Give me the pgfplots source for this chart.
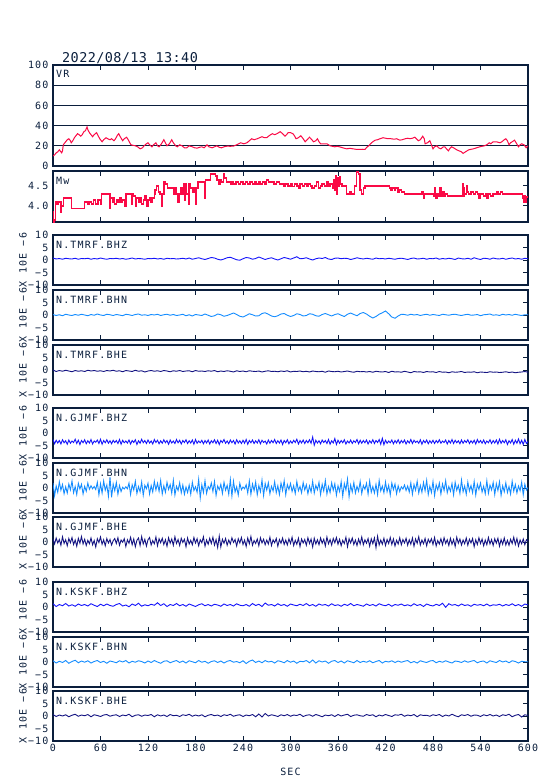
\documentclass[border=0pt]{standalone}
\usepackage{pgfplots}
\pgfplotsset{compat=1.18}
\usepackage{pgfplotstable}
\usepackage{fontspec}
\setmonofont[LetterSpace=12]{DejaVu Sans Mono}
\newfontfamily\titlefont[LetterSpace=3]{DejaVu Sans Mono}
\newcommand{\lab}{\fontsize{10}{12}\selectfont\ttfamily}
\definecolor{frame}{RGB}{10,30,60}
\definecolor{vrred}{RGB}{250,10,70}
\definecolor{czb}{RGB}{20,20,250}
\definecolor{cnb}{RGB}{20,140,255}
\definecolor{ceb}{RGB}{20,20,130}

\pgfplotstableread[header=false,row sep=\\]{
0.8\\0.4\\0.6\\0.3\\0.7\\0.5\\0.4\\0.7\\0.3\\0.6\\
0.5\\0.7\\0.3\\0.6\\0.4\\0.8\\0.5\\0.3\\0.6\\0.5\\
0.7\\0.4\\0.6\\0.3\\0.5\\0.8\\0.4\\0.6\\0.5\\0.3\\
0.6\\0.5\\0.7\\0.4\\0.6\\0.3\\0.7\\0.5\\0.6\\0.4\\
0.5\\0.7\\0.4\\0.8\\0.3\\0.6\\0.9\\0.5\\0.2\\0.6\\
1.0\\0.8\\0.3\\0.0\\0.4\\0.9\\1.1\\0.6\\0.1\\-0.1\\
0.5\\1.0\\0.8\\0.3\\0.6\\1.2\\0.7\\0.2\\0.6\\0.9\\
0.4\\0.0\\0.5\\1.0\\0.7\\0.3\\0.8\\1.3\\0.5\\0.6\\
0.9\\0.4\\0.0\\0.5\\0.8\\0.6\\1.0\\0.4\\0.2\\0.7\\
0.8\\0.5\\0.7\\0.6\\0.2\\0.5\\0.9\\0.6\\0.4\\0.7\\
0.5\\0.3\\0.8\\0.5\\0.6\\0.4\\0.7\\0.5\\0.3\\0.6\\
0.7\\0.5\\0.2\\0.6\\0.8\\0.4\\0.5\\0.7\\0.3\\0.6\\
0.5\\0.8\\0.3\\0.6\\0.4\\0.7\\0.5\\0.2\\0.8\\0.5\\
0.4\\0.7\\0.3\\0.9\\0.5\\0.2\\0.7\\0.6\\0.3\\0.8\\
0.5\\0.4\\0.7\\0.3\\0.6\\0.8\\0.4\\0.6\\0.3\\0.7\\
0.5\\
}\tmrfz
\pgfplotstableread[header=false,row sep=\\]{
0.2\\-0.2\\0.1\\-0.3\\0.3\\0.0\\-0.2\\0.2\\-0.1\\0.3\\
0.0\\-0.3\\0.2\\-0.1\\0.4\\0.0\\-0.2\\0.3\\0.1\\-0.2\\
0.2\\0.0\\-0.3\\0.3\\0.1\\-0.2\\0.2\\0.4\\-0.1\\0.1\\
-0.2\\0.2\\0.0\\0.3\\-0.2\\0.1\\0.3\\-0.1\\0.2\\-0.2\\
0.0\\0.3\\-0.3\\0.1\\-0.4\\0.2\\0.0\\-0.2\\0.4\\-0.1\\
-0.6\\-0.3\\0.4\\0.1\\-0.5\\-0.2\\0.3\\0.8\\0.2\\-0.5\\
-0.8\\-0.2\\0.5\\0.1\\-0.4\\-0.3\\0.6\\0.9\\0.3\\-0.4\\
-0.7\\-0.3\\0.4\\0.6\\-0.1\\-0.6\\-0.2\\0.5\\0.2\\-0.4\\
-0.2\\0.5\\0.3\\-0.3\\-0.5\\0.2\\0.6\\0.1\\-0.4\\0.2\\
0.5\\-0.1\\-0.6\\0.3\\0.8\\0.2\\-0.3\\0.6\\1.0\\0.4\\
-0.5\\-1.2\\-0.6\\0.3\\0.9\\1.6\\0.5\\-0.8\\-1.3\\-0.4\\
0.3\\0.2\\-0.1\\0.3\\0.0\\0.2\\-0.2\\0.1\\0.3\\-0.1\\
0.2\\0.0\\-0.2\\0.3\\0.1\\-0.1\\0.2\\0.3\\0.0\\-0.2\\
0.1\\0.3\\-0.1\\0.0\\0.2\\-0.3\\0.1\\0.2\\0.4\\-0.1\\
0.1\\-0.2\\0.3\\0.0\\0.2\\-0.1\\0.3\\0.0\\-0.2\\0.1\\
0.1\\
}\tmrfn
\pgfplotstableread[header=false,row sep=\\]{
0.0\\-0.6\\-0.2\\-0.5\\-0.1\\-0.4\\-0.7\\-0.2\\-0.5\\-0.3\\
-0.6\\-0.1\\-0.4\\-0.2\\-0.5\\-0.3\\-0.6\\-0.2\\-0.4\\-0.1\\
-0.5\\-0.3\\-0.7\\-0.2\\-0.4\\-0.6\\-0.1\\-0.5\\-0.3\\-0.8\\
-0.4\\-0.2\\-0.5\\-0.3\\-0.6\\-0.2\\-0.4\\-0.7\\-0.3\\-0.5\\
-0.2\\-0.6\\-0.4\\-0.3\\-0.7\\-0.2\\-0.5\\-0.4\\-0.6\\-0.3\\
-0.5\\-0.2\\-0.7\\-0.4\\-0.6\\-0.3\\-0.5\\-0.8\\-0.3\\-0.6\\
-0.4\\-0.7\\-0.3\\-0.5\\-0.6\\-0.4\\-0.8\\-0.5\\-0.3\\-0.6\\
-0.5\\-0.7\\-0.4\\-0.6\\-0.3\\-0.8\\-0.5\\-0.6\\-0.4\\-0.7\\
-0.5\\-0.8\\-0.4\\-0.6\\-0.7\\-0.5\\-0.9\\-0.4\\-0.6\\-0.7\\
-0.5\\-0.8\\-0.6\\-0.4\\-0.7\\-0.9\\-0.5\\-0.7\\-0.6\\-0.8\\
-0.6\\-0.9\\-0.5\\-0.7\\-0.8\\-0.6\\-1.0\\-0.5\\-0.8\\-0.7\\
-0.9\\-0.5\\-0.8\\-1.1\\-0.6\\-0.8\\-0.7\\-1.0\\-0.6\\-0.8\\
-0.7\\-1.0\\-0.6\\-0.9\\-0.8\\-1.1\\-0.7\\-0.9\\-0.8\\-0.6\\
-1.0\\-0.8\\-0.9\\-0.7\\-1.1\\-0.8\\-0.9\\-1.0\\-0.7\\-0.9\\
-0.8\\-1.0\\-0.9\\-0.7\\-1.0\\-0.8\\-1.1\\-0.9\\-0.8\\-0.6\\
-0.9\\
}\tmrfe
\pgfplotstableread[header=false,row sep=\\]{
-2.6\\-4.3\\-2.9\\-4.0\\-3.0\\-4.4\\-2.7\\-3.9\\-3.1\\-4.5\\-2.8\\-4.1\\-3.2\\-3.8\\-2.5\\-4.2\\-2.9\\-4.6\\-3.0\\-3.9\\
-2.7\\-4.3\\-3.1\\-4.0\\-2.6\\-4.4\\-3.2\\-3.7\\-2.8\\-4.2\\-2.5\\-4.5\\-3.0\\-3.9\\-2.7\\-4.1\\-3.1\\-4.3\\-2.9\\-3.8\\
-3.0\\-4.2\\-2.6\\-4.5\\-2.9\\-3.9\\-3.2\\-4.0\\-2.8\\-4.4\\-3.0\\-3.8\\-2.7\\-4.6\\-3.1\\-4.1\\-2.5\\-3.9\\-3.0\\-4.2\\
-2.8\\-4.0\\-3.2\\-4.4\\-2.6\\-3.8\\-2.9\\-4.3\\-3.1\\-4.1\\-2.7\\-3.9\\-3.0\\-4.5\\-2.8\\-4.0\\-3.2\\-4.2\\-2.6\\-3.9\\
-2.9\\-4.4\\-3.0\\-3.8\\-2.7\\-4.2\\-3.1\\-4.0\\-2.8\\-4.5\\-2.6\\-4.1\\-3.2\\-3.9\\-2.9\\-4.3\\-3.0\\-4.0\\-2.8\\-4.4\\
-3.1\\-3.9\\-2.7\\-4.2\\-2.9\\-4.6\\-3.0\\-3.8\\-2.6\\-4.1\\-3.2\\-4.3\\-2.8\\-3.9\\-3.0\\-4.4\\-2.7\\-4.0\\-3.1\\-4.2\\
-2.9\\-4.1\\-2.6\\-4.5\\-3.0\\-3.9\\-2.8\\-4.2\\-3.1\\-4.0\\-2.7\\-4.3\\-2.9\\-3.8\\-3.2\\-4.4\\-2.8\\-4.1\\-3.0\\-3.9\\
-2.6\\-4.2\\-3.1\\-4.0\\-2.8\\-4.6\\-3.0\\-3.9\\-2.7\\-4.3\\-3.2\\-4.1\\-2.9\\-3.8\\-2.5\\-4.4\\-3.0\\-4.0\\-2.8\\-4.2\\
-3.0\\-3.9\\-2.7\\-4.1\\-1.6\\-4.9\\-2.9\\-4.0\\-3.1\\-4.3\\-2.8\\-3.8\\-3.0\\-4.2\\-2.6\\-4.5\\-3.1\\-4.0\\-2.2\\-4.6\\
-2.9\\-4.1\\-3.0\\-3.9\\-2.7\\-4.4\\-3.2\\-4.0\\-2.8\\-4.2\\-3.1\\-3.8\\-2.6\\-4.3\\-2.9\\-4.1\\-3.0\\-3.9\\-2.8\\-4.4\\
-3.1\\-4.0\\-2.7\\-4.2\\-3.0\\-3.8\\-2.6\\-4.5\\-2.1\\-4.7\\-2.9\\-4.1\\-3.2\\-3.9\\-2.8\\-4.3\\-3.0\\-4.0\\-2.7\\-4.2\\
-3.0\\-3.9\\-2.8\\-4.4\\-3.1\\-4.0\\-2.6\\-4.2\\-2.9\\-3.8\\-3.2\\-4.1\\-2.7\\-4.5\\-3.0\\-3.9\\-2.8\\-4.3\\-3.1\\-4.0\\
-2.9\\-4.2\\-3.0\\-3.9\\-2.7\\-4.1\\-3.2\\-3.8\\-2.8\\-4.4\\-3.0\\-4.0\\-2.6\\-4.2\\-2.9\\-3.9\\-3.1\\-4.3\\-2.8\\-4.1\\
-3.0\\-3.8\\-2.7\\-4.2\\-3.1\\-4.0\\-2.9\\-4.4\\-2.6\\-3.9\\-3.0\\-4.1\\-2.8\\-4.3\\-3.2\\-3.9\\-2.7\\-4.2\\-3.0\\-4.0\\
-2.8\\-4.4\\-2.5\\-4.1\\-3.0\\-3.9\\-2.7\\-4.6\\-3.1\\-4.0\\-2.6\\-4.5\\-2.9\\-4.1\\-2.4\\-4.3\\-2.9\\-4.6\\-2.6\\-4.2\\
-3.4\\
}\gjmfz
\pgfplotstableread[header=false,row sep=\\]{
2.0\\-3.1\\0.8\\-1.7\\2.5\\-0.9\\1.4\\-2.3\\0.5\\-2.0\\1.6\\-0.7\\2.8\\-1.9\\0.6\\-2.6\\1.9\\-0.4\\1.5\\-2.4\\
0.7\\-1.3\\2.0\\-0.5\\0.9\\-0.3\\0.6\\-0.6\\2.3\\-2.7\\1.7\\-2.0\\2.8\\-0.9\\1.2\\-3.3\\4.3\\-3.7\\1.6\\-1.1\\
2.2\\-2.5\\1.0\\-1.4\\0.3\\-0.4\\0.5\\-0.3\\2.0\\-2.6\\1.3\\-0.8\\2.7\\-2.2\\0.6\\-1.5\\2.4\\-2.9\\1.1\\-0.3\\
1.9\\-2.4\\1.0\\-1.6\\2.7\\-0.8\\1.9\\-1.3\\3.0\\-2.4\\0.9\\-1.7\\2.3\\-0.6\\1.4\\-2.1\\3.1\\-2.8\\0.7\\-1.0\\
2.1\\-1.9\\1.2\\-2.5\\0.4\\-1.8\\1.2\\-2.5\\2.3\\-1.0\\0.5\\-1.7\\3.5\\-4.0\\1.3\\-1.8\\2.9\\-2.1\\0.6\\-0.5\\
2.0\\-1.4\\2.6\\-3.0\\0.8\\-0.7\\1.5\\-2.2\\2.3\\-0.9\\1.1\\-2.5\\3.4\\-3.2\\2.7\\-1.6\\0.5\\-2.8\\1.9\\-0.7\\
0.4\\-0.3\\1.3\\-2.0\\2.8\\-2.5\\1.6\\-1.1\\2.4\\-2.7\\1.0\\-1.5\\3.2\\-3.0\\1.8\\-0.8\\2.1\\-2.3\\0.7\\-1.2\\
2.5\\-1.9\\0.9\\-2.6\\2.0\\-1.0\\2.9\\-2.7\\1.4\\-0.6\\1.8\\-1.4\\0.9\\-2.2\\2.6\\-1.1\\0.6\\-1.9\\2.2\\-0.8\\
1.3\\-2.3\\0.8\\-1.6\\2.7\\-2.0\\1.1\\-0.7\\2.3\\-2.6\\1.5\\-1.2\\3.0\\-2.4\\0.6\\-1.8\\2.1\\-0.9\\1.7\\-2.9\\
0.9\\-1.4\\2.5\\-3.3\\1.8\\-0.8\\3.6\\-3.5\\1.2\\-1.6\\2.2\\-2.0\\0.7\\-1.3\\2.6\\-2.2\\1.0\\-0.5\\1.9\\-2.4\\
2.8\\-1.7\\0.6\\-2.0\\1.5\\-2.6\\3.0\\-1.2\\0.8\\-1.9\\2.4\\-1.5\\1.1\\-2.8\\2.0\\-0.7\\1.6\\-2.3\\0.9\\-1.4\\
0.5\\-0.4\\1.2\\-1.0\\0.8\\-1.6\\2.1\\-2.5\\1.4\\-0.9\\2.7\\-2.0\\1.0\\-1.7\\2.2\\-1.1\\3.1\\-2.6\\0.7\\-1.8\\
2.6\\-3.0\\1.3\\-0.8\\2.0\\-2.4\\1.6\\-1.0\\2.9\\-1.9\\0.6\\-1.3\\1.8\\-2.7\\2.3\\-0.9\\1.1\\-2.2\\3.2\\-1.5\\
0.8\\-2.5\\2.4\\-1.2\\1.0\\-1.9\\2.6\\-2.8\\1.5\\-0.6\\2.0\\-1.6\\0.7\\-2.3\\2.9\\-2.1\\1.2\\-0.8\\2.2\\-2.6\\
1.7\\-1.0\\2.5\\-2.9\\0.9\\-1.5\\2.1\\-1.8\\0.6\\-2.4\\2.7\\-1.3\\1.4\\-2.0\\0.8\\-1.1\\2.3\\-2.7\\1.5\\-0.8\\
0.2\\
}\gjmfn
\pgfplotstableread[header=false,row sep=\\]{
1.2\\-0.8\\1.6\\-0.4\\1.0\\-1.3\\2.1\\-0.6\\0.9\\-1.5\\1.4\\-0.3\\1.8\\-1.0\\0.8\\-1.7\\1.5\\-0.5\\2.2\\-0.8\\
1.1\\-1.4\\0.7\\-0.7\\1.6\\-1.1\\0.6\\-2.0\\1.3\\-0.2\\2.0\\-0.9\\0.9\\-1.5\\1.4\\-0.4\\1.0\\-1.2\\0.5\\1.4\\
-0.6\\1.7\\-1.3\\0.8\\-0.1\\1.3\\-1.8\\0.9\\-0.5\\1.9\\-1.1\\1.2\\-1.9\\0.7\\1.6\\-1.4\\2.2\\-0.8\\1.1\\-1.6\\
0.9\\1.8\\-1.2\\0.6\\-0.7\\2.0\\-1.5\\1.3\\-0.3\\1.5\\-1.0\\0.9\\-1.7\\1.7\\-0.5\\1.2\\-1.3\\2.1\\-0.6\\1.0\\
-1.4\\1.5\\-0.2\\1.1\\-1.9\\1.6\\-0.8\\0.7\\-1.1\\1.8\\-0.4\\1.3\\-1.5\\0.9\\-0.3\\2.1\\-1.7\\0.8\\-0.9\\1.5\\
-0.6\\1.9\\-1.2\\1.0\\-2.2\\2.4\\-2.0\\1.1\\-0.5\\1.4\\-1.3\\0.8\\-0.8\\1.7\\-0.2\\1.0\\-1.6\\1.3\\-0.4\\1.8\\
-1.0\\0.8\\-1.8\\1.6\\-0.7\\2.2\\-1.3\\0.6\\-0.6\\1.2\\-1.5\\1.7\\-0.4\\1.1\\-1.1\\0.8\\-0.8\\1.9\\-1.4\\0.9\\
-0.3\\1.4\\-1.7\\1.0\\-0.5\\1.6\\-1.0\\0.8\\-1.2\\1.3\\-0.6\\1.9\\-1.4\\0.7\\-0.9\\1.5\\-1.8\\1.2\\-0.4\\1.0\\
-1.3\\1.7\\-0.6\\1.2\\-2.0\\1.5\\-0.8\\0.9\\-1.1\\1.6\\-0.5\\1.1\\-1.6\\2.0\\-0.7\\1.0\\-1.2\\1.4\\-0.3\\1.8\\
-0.9\\1.1\\-1.5\\0.7\\-0.6\\1.9\\-1.9\\1.3\\-0.4\\1.6\\-1.0\\0.8\\-1.4\\1.2\\-0.8\\2.0\\-1.1\\0.9\\-0.5\\1.4\\
-1.7\\1.3\\-0.7\\1.6\\-2.3\\2.3\\-1.2\\0.8\\-0.9\\1.5\\-1.4\\1.0\\-0.6\\1.8\\-1.0\\1.2\\-1.6\\0.7\\-0.8\\1.7\\
-1.1\\1.0\\-0.4\\1.5\\-1.3\\0.9\\-0.9\\1.6\\-1.7\\1.2\\-0.5\\2.1\\-1.2\\0.8\\-0.7\\1.4\\-1.5\\1.1\\-0.3\\1.3\\
-1.0\\1.8\\-1.6\\0.6\\-0.8\\1.3\\-1.1\\1.7\\-0.6\\0.9\\-1.4\\1.5\\-0.9\\1.0\\-1.8\\1.9\\-0.5\\1.2\\-1.2\\0.8\\
-0.7\\1.6\\-1.3\\1.1\\-0.4\\1.4\\-1.9\\0.9\\-1.0\\1.7\\-0.6\\1.2\\-1.5\\0.8\\-1.1\\1.8\\-0.8\\1.0\\-1.4\\1.3\\
-0.5\\1.5\\-1.7\\1.0\\-0.9\\1.6\\-1.2\\0.7\\-1.3\\1.1\\-0.6\\1.9\\-1.0\\1.4\\-1.6\\0.8\\-0.7\\1.2\\-1.1\\0.9\\
0.3\\
}\gjmfe
\pgfplotstableread[header=false,row sep=\\]{
1.3\\0.2\\1.0\\0.5\\1.4\\0.4\\0.9\\0.3\\1.2\\0.6\\
1.0\\0.4\\1.3\\0.7\\0.2\\1.1\\0.5\\1.2\\0.6\\0.3\\
1.0\\1.4\\0.4\\0.8\\0.1\\1.2\\0.6\\1.5\\0.3\\0.9\\
0.5\\1.1\\0.7\\1.7\\0.6\\1.3\\0.2\\1.0\\0.6\\1.4\\
0.5\\1.0\\0.3\\1.2\\0.7\\0.2\\0.9\\1.3\\0.5\\1.0\\
0.4\\1.1\\0.8\\0.3\\1.2\\0.6\\1.0\\0.4\\1.3\\0.7\\
0.5\\1.0\\0.3\\1.4\\0.6\\1.1\\0.2\\1.6\\0.7\\1.0\\
0.4\\1.3\\0.6\\1.0\\0.3\\1.2\\0.8\\0.5\\1.1\\0.6\\
1.4\\0.5\\1.0\\0.3\\1.2\\0.7\\1.0\\0.4\\1.3\\0.6\\
0.9\\0.3\\1.1\\0.6\\1.4\\0.5\\1.0\\0.7\\0.3\\1.2\\
0.6\\1.0\\0.4\\1.3\\0.8\\0.5\\1.1\\0.3\\1.0\\0.7\\
1.2\\0.5\\0.9\\0.4\\1.3\\0.6\\1.0\\0.2\\1.2\\0.7\\
0.4\\1.1\\0.6\\1.5\\-0.1\\1.3\\0.7\\1.0\\0.4\\1.2\\
0.6\\0.9\\0.3\\1.1\\0.7\\1.0\\0.5\\1.2\\0.4\\0.9\\
0.7\\1.1\\0.4\\1.0\\0.6\\1.3\\0.5\\1.0\\0.3\\1.2\\
0.8\\
}\kskfz
\pgfplotstableread[header=false,row sep=\\]{
0.5\\-0.4\\0.3\\-0.2\\0.6\\-0.5\\0.2\\0.7\\-0.3\\0.4\\
-0.1\\0.5\\-0.4\\0.2\\0.6\\-0.2\\0.3\\-0.5\\0.4\\0.1\\
-0.3\\0.5\\0.0\\0.6\\-0.4\\0.3\\-0.1\\0.5\\0.2\\-0.4\\
0.4\\-0.2\\0.6\\0.0\\-0.5\\0.3\\0.5\\-0.3\\0.2\\0.6\\
-0.2\\0.4\\-0.4\\0.5\\0.1\\-0.3\\0.6\\-0.1\\0.3\\-0.5\\
0.2\\0.5\\-0.2\\0.4\\-0.4\\0.3\\0.6\\-0.1\\0.2\\-0.3\\
0.5\\-0.6\\0.3\\0.8\\-0.2\\0.4\\-0.3\\0.6\\0.0\\0.3\\
-0.4\\0.5\\0.2\\-0.3\\0.6\\-0.1\\0.4\\-0.5\\0.3\\0.1\\
0.6\\-0.3\\0.8\\-0.4\\0.5\\0.0\\0.4\\-0.5\\0.3\\0.6\\
-0.2\\0.4\\-0.4\\0.5\\0.1\\-0.3\\0.6\\-0.2\\0.3\\-0.1\\
0.5\\-0.3\\0.2\\0.6\\-0.4\\0.3\\0.0\\0.5\\-0.2\\0.4\\
-0.1\\0.3\\0.6\\-0.3\\0.2\\-0.4\\0.5\\0.1\\-0.2\\0.4\\
0.6\\-0.3\\0.3\\-0.1\\0.5\\0.0\\-0.4\\0.4\\0.2\\-0.2\\
0.5\\-0.1\\0.3\\0.6\\-0.3\\0.2\\0.4\\-0.4\\0.5\\0.1\\
-0.2\\0.6\\0.0\\0.4\\-0.3\\0.5\\0.2\\-0.4\\0.3\\0.1\\
0.1\\
}\kskfn
\pgfplotstableread[header=false,row sep=\\]{
0.6\\-0.2\\0.4\\0.0\\0.5\\-0.3\\0.3\\0.7\\-0.1\\0.4\\
0.1\\0.6\\-0.3\\0.5\\0.2\\-0.2\\0.4\\0.6\\-0.1\\0.3\\
0.5\\-0.2\\0.4\\0.1\\0.7\\-0.3\\0.3\\0.5\\-0.1\\0.4\\
0.2\\0.6\\-0.3\\0.5\\0.0\\0.4\\-0.2\\0.6\\0.1\\0.3\\
-0.2\\0.5\\0.2\\0.7\\-0.1\\0.4\\0.0\\0.5\\-0.3\\0.3\\
0.6\\0.1\\0.4\\-0.2\\0.5\\0.2\\0.7\\-0.1\\0.3\\0.5\\
-0.2\\0.4\\0.1\\0.6\\-0.3\\0.8\\-0.4\\1.0\\0.0\\0.5\\
0.2\\-0.2\\0.5\\0.1\\0.6\\-0.1\\0.4\\0.2\\0.7\\-0.2\\
0.3\\0.5\\-0.1\\0.6\\0.2\\-0.3\\0.4\\0.1\\0.5\\-0.2\\
0.6\\0.0\\0.4\\0.7\\-0.2\\0.3\\0.5\\0.1\\-0.1\\0.6\\
0.2\\0.5\\-0.3\\0.4\\0.0\\0.6\\0.2\\-0.2\\0.5\\0.3\\
0.7\\-0.1\\0.4\\0.1\\0.6\\-0.3\\0.5\\0.2\\0.3\\-0.1\\
0.5\\0.2\\0.6\\-0.2\\0.4\\0.0\\0.7\\0.1\\-0.3\\0.5\\
0.2\\0.6\\-0.1\\0.4\\0.3\\-0.2\\0.5\\0.1\\0.6\\0.0\\
0.4\\-0.2\\0.5\\0.2\\0.7\\-0.3\\0.3\\0.6\\-0.4\\0.5\\
0.2\\
}\kskfe

\pgfplotsset{
  base/.style={scale only axis, width=475pt, xmin=0, xmax=600,
    xtick={0,60,...,600}, xticklabels={},
    axis line style={line width=1.8pt, draw=frame},
    tick align=inside, major tick length=5pt,
    major tick style={line width=1pt, draw=frame},
    tick label style={font=\lab, text=frame},
    yticklabel style={xshift=-1pt},
    ytick pos=right, yticklabel pos=left, xtick pos=both},
  seis/.style={base, height=50pt, ymin=-10, ymax=10,
    ytick={-10,-5,0,5,10}, yticklabels={−10,−5,0,5,10},
    ylabel={X 10E −6},
    every axis y label/.style={at={(axis description cs:0,0.5)}, xshift=-30pt,
      rotate=90, anchor=center, font=\lab, text=frame}},
}
% #1 top, #2 table, #3 colour, #4 name, #5 step, #6 extra axis options
\newcommand{\seis}[6]{%
\begin{axis}[seis, at={(53pt,-#1pt)}, anchor=north west, #6]
\addplot[draw=#3, mark=none, line width=0.9pt] table[x expr=\coordindex*#5, y index=0] {#2};
\node[anchor=north west, font=\lab, text=frame, inner sep=0pt] at (rel axis cs:0.006,0.88) {#4};
\end{axis}}

\begin{document}
\begin{tikzpicture}
\useasboundingbox (0,0) rectangle (554pt,-781pt);
\node[anchor=base west, font=\titlefont\fontsize{13.5}{15}\selectfont, text=frame, inner sep=0pt] at (62pt,-63pt) {2022/08/13 13:40};

\begin{axis}[base, at={(53pt,-65pt)}, anchor=north west, height=101pt,
  ymin=0, ymax=100, ytick={0,20,...,100}, yticklabels={0,20,40,60,80,100},
  ymajorgrids, grid style={line width=1pt, draw=frame}]
\addplot[draw=vrred, mark=none, line width=1pt] coordinates {
(0,10)(2,11)(4,13)(6,14)(8,16)(10,14)(11,13)(12,15)(13,21)(15,23)(18,26)(20,27)(22,25)(23,23)(25,25)(27,28)(29,30)(31,32)(33,31)(35,29.5)(37,31)(39,34)(41,35)(43,38.7)(44,36)(46,33)(48,31)(50,29)(52,31)(55,33)(57,30)(59,27)(61,25)(62,24)(64,26)(67,28)(69,27)(72,26)(74,27)(77,25)(79,27)(81,30)(83,32)(85,29)(88,25)(90,27)(93,28.5)(95,26)(97,23)(98.5,21)(101,20.5)(104,20)(107,19)(110,17)(113,18)(115,20)(118,22)(120,23)(122,21)(125,19)(127,21)(130,23)(132,20)(134,19)(137,22)(140,26)(142,23)(144,20)(147,22)(150,26)(152,23)(155,20)(157,19)(160,21)(163,20)(166,18)(169,18)(172,20)(176,19)(179,18)(182,17.7)(185,18.5)(188,19)(191,18)(194.5,21)(197,19)(201,18)(204,19)(207,20)(210,18.5)(213,18)(216,19)(220,19.7)(224,19.5)(228,19.7)(232,21)(237,23)(241,22)(245,23)(248,25)(251,27)(254,26)(258,27)(261,28)(264,29)(267,28)(270,28)(273,30)(277,32)(280,31)(283,32)(287,34)(290,32)(293,29.5)(295,31)(297,33)(300,33)(303,32)(305,30)(307,27)(310,28)(313,30)(316,27)(318.5,24)(321,26)(324,28.5)(327,26)(329,24)(332,25)(334,27)(336,24)(338,22)(342,22)(346,22)(348,21)(350,20)(353,19.5)(356,19)(359,19.5)(362,19)(366,18)(371,17)(375,17.5)(379,17)(383,16.5)(388,16.4)(391,16.6)(394,16.4)(397,19)(399,20)(401,22)(404,24)(407,25.6)(410,26)(413,27)(417,28)(420,27.5)(423,27)(427,27)(431,26.5)(434,27)(438,25.6)(441,26)(445,27)(448,27.5)(451,27)(454,27.5)(457,28.5)(459,27)(461.5,25)(464,26)(467,29.5)(469,27)(470,22)(473,23)(476,25)(478,21)(480,17)(482,19)(485,20)(487,18)(490,17)(493,19)(495,19)(497,17)(499.5,15)(501,17)(503.5,19)(506,18)(508,17)(510,16)(513,15)(516,14)(518,12.5)(521,14)(523,15)(525,16)(528,16.5)(531,17)(535,18)(539,19)(542,19.5)(545,20)(548,21)(551,23)(553,22)(556,24)(560,24)(564.5,23)(567,24)(570,26)(572,27)(574,25)(576,21)(578,23)(580,24)(583,25.6)(585,23)(588,19)(590,21)(592,22)(595,21)(597.7,18)(600,20)
};
\node[anchor=north west, font=\lab, text=frame, inner sep=0pt] at (rel axis cs:0.006,0.95) {VR};
\end{axis}

\begin{axis}[base, at={(53pt,-171pt)}, anchor=north west, height=51pt,
  ymin=3.6, ymax=4.87, ytick={4.0,4.5}, yticklabels={4.0,4.5}]
\addplot[draw=vrred, mark=none, line width=1.4pt] coordinates {
(0,3.85)(1,3.85)(1,3.6)(2,3.6)(2,3.65)(3,3.65)(3,4.1)(5,4.1)(5,4.05)(7,4.05)(7,4.1)(10,4.1)(10,3.85)(11,3.85)(11,4.0)(13,4.0)(13,4.2)(23,4.2)(23,3.93)(40,3.93)(40,4.1)(44,4.1)(44,4.05)(46,4.05)(46,4.1)(49,4.1)(49,4.05)(51,4.05)(51,4.15)(54,4.15)(54,4.05)(57,4.05)(57,4.15)(60,4.15)(60,4.05)(61,4.05)(61,4.3)(72,4.3)(72,3.95)(73,3.95)(73,4.2)(75,4.2)(75,4.1)(77,4.1)(77,4.2)(78,4.2)(78,4.05)(80,4.05)(80,4.15)(82,4.15)(82,4.1)(84,4.1)(84,4.2)(86,4.2)(86,4.1)(88,4.1)(88,4.15)(90,4.15)(90,4.0)(92,4.0)(92,4.3)(99,4.3)(99,4.05)(100,4.05)(100,4.3)(102,4.3)(102,4.25)(104,4.25)(104,4.0)(105,4.0)(105,4.2)(108,4.2)(108,4.1)(110,4.1)(110,4.2)(112,4.2)(112,4.05)(114,4.05)(114,4.15)(116,4.15)(116,4.25)(118,4.25)(118,4.0)(120,4.0)(120,4.15)(122,4.15)(122,4.2)(124,4.2)(124,4.1)(126,4.1)(126,4.2)(128,4.2)(128,4.3)(129,4.3)(129,4.4)(131,4.4)(131,4.5)(133,4.5)(133,4.35)(135,4.35)(135,4.3)(137,4.3)(137,4.0)(138,4.0)(138,4.3)(140,4.3)(140,4.6)(142,4.6)(142,4.55)(145,4.55)(145,4.45)(152,4.45)(152,4.3)(154,4.3)(154,4.45)(156,4.45)(156,4.3)(158,4.3)(158,4.1)(159,4.1)(159,4.3)(161,4.3)(161,4.45)(163,4.45)(163,4.3)(165,4.3)(165,4.55)(166,4.55)(166,4.15)(167,4.15)(167,4.55)(169,4.55)(169,4.3)(171,4.3)(171,4.05)(172,4.05)(172,4.55)(174,4.55)(174,4.45)(176,4.45)(176,4.35)(178,4.35)(178,4.45)(180,4.45)(180,4.05)(181,4.05)(181,4.45)(183,4.45)(183,4.6)(192,4.6)(192,4.2)(193,4.2)(193,4.65)(199,4.65)(199,4.8)(205,4.8)(205,4.75)(207,4.75)(207,4.65)(209,4.65)(209,4.55)(211,4.55)(211,4.65)(213,4.65)(213,4.6)(215,4.6)(215,4.8)(217,4.8)(217,4.7)(219,4.7)(219,4.6)(224,4.6)(224,4.55)(226,4.55)(226,4.6)(228,4.6)(228,4.55)(231,4.55)(231,4.6)(234,4.6)(234,4.55)(237,4.55)(237,4.6)(240,4.6)(240,4.55)(243,4.55)(243,4.6)(246,4.6)(246,4.55)(249,4.55)(249,4.6)(252,4.6)(252,4.55)(255,4.55)(255,4.6)(257,4.6)(257,4.55)(260,4.55)(260,4.6)(262,4.6)(262,4.55)(265,4.55)(265,4.6)(268,4.6)(268,4.55)(270,4.55)(270,4.65)(272,4.65)(272,4.6)(279,4.6)(279,4.55)(282,4.55)(282,4.6)(286,4.6)(286,4.55)(292,4.55)(292,4.5)(294,4.5)(294,4.55)(297,4.55)(297,4.5)(300,4.5)(300,4.55)(302,4.55)(302,4.48)(305,4.48)(305,4.55)(308,4.55)(308,4.5)(310,4.5)(310,4.45)(312,4.45)(312,4.55)(315,4.55)(315,4.5)(318,4.5)(318,4.55)(321,4.55)(321,4.48)(323,4.48)(323,4.55)(325,4.55)(325,4.5)(327,4.5)(327,4.45)(330,4.45)(330,4.5)(333,4.5)(333,4.6)(335,4.6)(335,4.45)(338,4.45)(338,4.5)(340,4.5)(340,4.55)(343,4.55)(343,4.5)(346,4.5)(346,4.6)(348,4.6)(348,4.5)(350,4.5)(350,4.55)(353,4.55)(353,4.45)(354,4.45)(354,4.65)(356,4.65)(356,4.4)(357,4.4)(357,4.75)(358,4.75)(358,4.3)(359,4.3)(359,4.7)(360,4.7)(360,4.5)(362,4.5)(362,4.72)(363,4.72)(363,4.55)(365,4.55)(365,4.5)(371,4.5)(371,4.3)(375,4.3)(375,4.35)(377,4.35)(377,4.3)(381,4.3)(381,4.5)(383,4.5)(383,4.85)(386,4.85)(386,4.8)(388,4.8)(388,4.4)(390,4.4)(390,4.3)(392,4.3)(392,4.45)(394,4.45)(394,4.5)(425,4.5)(425,4.45)(427,4.45)(427,4.4)(429,4.4)(429,4.45)(431,4.45)(431,4.4)(433,4.4)(433,4.45)(436,4.45)(436,4.35)(438,4.35)(438,4.4)(440,4.4)(440,4.35)(444,4.35)(444,4.3)(466,4.3)(466,4.35)(468,4.35)(468,4.2)(469,4.2)(469,4.3)(481,4.3)(481,4.25)(482,4.25)(482,4.45)(483,4.45)(483,4.2)(485,4.2)(485,4.3)(487,4.3)(487,4.25)(489,4.25)(489,4.45)(490,4.45)(490,4.25)(492,4.25)(492,4.35)(494,4.35)(494,4.25)(496,4.25)(496,4.3)(498,4.3)(498,4.25)(517,4.25)(517,4.55)(518,4.55)(518,4.25)(519,4.25)(519,4.45)(520,4.45)(520,4.3)(522,4.3)(522,4.5)(523,4.5)(523,4.35)(525,4.35)(525,4.3)(528,4.3)(528,4.35)(531,4.35)(531,4.3)(534,4.3)(534,4.35)(536,4.35)(536,4.3)(538,4.3)(538,4.2)(540,4.2)(540,4.3)(544,4.3)(544,4.25)(546,4.25)(546,4.3)(548,4.3)(548,4.2)(550,4.2)(550,4.3)(553,4.3)(553,4.25)(556,4.25)(556,4.3)(560,4.3)(560,4.35)(562,4.35)(562,4.3)(565,4.3)(565,4.35)(568,4.35)(568,4.3)(593,4.3)(593,4.2)(594,4.2)(594,4.1)(595,4.1)(595,4.25)(597,4.25)(597,4.1)(598,4.1)(598,4.22)(600,4.22)
};
\node[anchor=north west, font=\lab, text=frame, inner sep=0pt] at (rel axis cs:0.006,0.88) {Mw};
\end{axis}

\seis{235}{\tmrfz}{czb}{N.TMRF.BHZ}{4}{}
\seis{290}{\tmrfn}{cnb}{N.TMRF.BHN}{4}{}
\seis{345}{\tmrfe}{ceb}{N.TMRF.BHE}{4}{}
\seis{408}{\gjmfz}{czb}{N.GJMF.BHZ}{2}{}
\seis{463}{\gjmfn}{cnb}{N.GJMF.BHN}{2}{}
\seis{517}{\gjmfe}{ceb}{N.GJMF.BHE}{2}{}
\seis{582}{\kskfz}{czb}{N.KSKF.BHZ}{4}{}
\seis{637}{\kskfn}{cnb}{N.KSKF.BHN}{4}{}
\seis{691}{\kskfe}{ceb}{N.KSKF.BHE}{4}{xticklabels={0,60,120,180,240,300,360,420,480,540,600}, xlabel={SEC},
  every axis x label/.style={at={(axis description cs:0.5,0)}, yshift=-31pt, anchor=center, font=\lab, text=frame}}

\end{tikzpicture}
\end{document}
